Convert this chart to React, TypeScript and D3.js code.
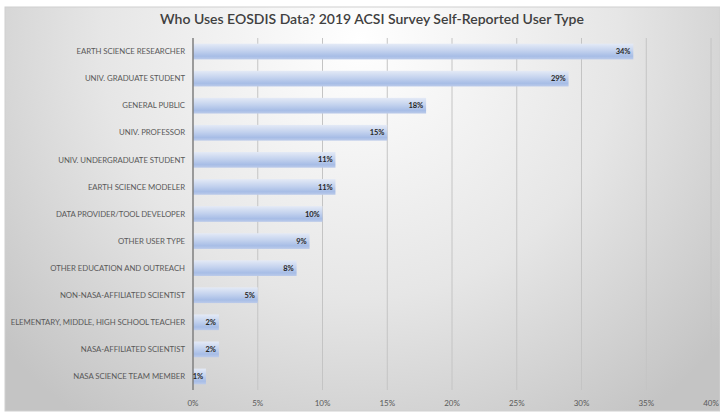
import { useEffect, useRef } from 'react';
import * as d3 from 'd3';

const categories = [
  'EARTH SCIENCE RESEARCHER',
  'UNIV. GRADUATE STUDENT',
  'GENERAL PUBLIC',
  'UNIV. PROFESSOR',
  'UNIV. UNDERGRADUATE STUDENT',
  'EARTH SCIENCE MODELER',
  'DATA PROVIDER/TOOL DEVELOPER',
  'OTHER USER TYPE',
  'OTHER EDUCATION AND OUTREACH',
  'NON-NASA-AFFILIATED SCIENTIST',
  'ELEMENTARY, MIDDLE, HIGH SCHOOL TEACHER',
  'NASA-AFFILIATED SCIENTIST',
  'NASA SCIENCE TEAM MEMBER',
];
const shares = [34, 29, 18, 15, 11, 11, 10, 9, 8, 5, 2, 2, 1];
const xTicks = [0, 5, 10, 15, 20, 25, 30, 35, 40];
const title = 'Who Uses EOSDIS Data? 2019 ACSI Survey Self-Reported User Type';

const W = 720;
const H = 414;
const FONT = 'Lato, "Open Sans", sans-serif';

export default function App() {
  const svgRef = useRef<SVGSVGElement>(null);

  useEffect(() => {
    document.body.style.margin = '0';
    if (!svgRef.current) return;
    const svg = d3.select(svgRef.current);
    svg.selectAll('*').remove();

    const margin = { top: 38, right: 9, bottom: 24, left: 193 };
    const x = d3.scaleLinear().domain([0, 40]).range([margin.left, W - margin.right]);
    const y = d3.scaleBand().domain(categories).range([margin.top, H - margin.bottom]).paddingInner(0.42).paddingOuter(0.21);

    const defs = svg.append('defs');
    const bg = defs.append('radialGradient')
        .attr('id', 'bg')
        .attr('gradientUnits', 'userSpaceOnUse')
        .attr('cx', 360).attr('cy', 40).attr('r', 470);
    bg.append('stop').attr('offset', '0%').attr('stop-color', '#ffffff');
    bg.append('stop').attr('offset', '55%').attr('stop-color', '#e6e6e6');
    bg.append('stop').attr('offset', '100%').attr('stop-color', '#c4c4c4');

    const bar = defs.append('linearGradient')
        .attr('id', 'bar')
        .attr('x1', 0).attr('y1', 0).attr('x2', 0).attr('y2', 1);
    bar.append('stop').attr('offset', '0%').attr('stop-color', '#e4eaf6');
    bar.append('stop').attr('offset', '45%').attr('stop-color', '#c3d2ee');
    bar.append('stop').attr('offset', '80%').attr('stop-color', '#a7bde6');
    bar.append('stop').attr('offset', '100%').attr('stop-color', '#bccbea');

    // chart area background
    svg.append('rect')
        .attr('x', 5).attr('y', 7)
        .attr('width', W - 5).attr('height', H - 10)
        .attr('fill', 'url(#bg)')
        .attr('stroke', '#d0d0d0');

    svg.append('text')
        .attr('x', 372).attr('y', 24)
        .attr('text-anchor', 'middle')
        .attr('font-family', FONT)
        .attr('font-size', 14)
        .attr('font-weight', 600)
        .attr('fill', '#404040')
        .text(title);

    // grid
    svg.append('g')
        .selectAll('line')
        .data(xTicks.slice(1))
        .join('line')
        .attr('x1', d => x(d)).attr('x2', d => x(d))
        .attr('y1', margin.top).attr('y2', H - margin.bottom)
        .attr('stroke', '#c4c4c4')
        .attr('stroke-width', 1);

    // x labels
    svg.append('g')
        .selectAll('text')
        .data(xTicks)
        .join('text')
        .attr('x', d => x(d))
        .attr('y', H - 8)
        .attr('text-anchor', 'middle')
        .attr('font-family', FONT)
        .attr('font-size', 8)
        .attr('fill', '#595959')
        .text(d => `${d}%`);

    // bars
    svg.append('g')
        .selectAll('rect')
        .data(shares)
        .join('rect')
        .attr('x', x(0))
        .attr('y', (_, i) => y(categories[i])!)
        .attr('width', d => x(d) - x(0))
        .attr('height', y.bandwidth())
        .attr('fill', 'url(#bar)');

    // vertical axis line
    svg.append('line')
        .attr('x1', x(0)).attr('x2', x(0))
        .attr('y1', margin.top).attr('y2', H - margin.bottom)
        .attr('stroke', '#7f7f7f')
        .attr('stroke-width', 1.5);

    // value labels
    svg.append('g')
        .selectAll('text')
        .data(shares)
        .join('text')
        .attr('x', d => x(d) - 3)
        .attr('y', (_, i) => y(categories[i])! + y.bandwidth() / 2)
        .attr('dy', '0.35em')
        .attr('text-anchor', 'end')
        .attr('font-family', FONT)
        .attr('font-size', 7.5)
        .attr('font-weight', 700)
        .attr('letter-spacing', -0.1)
        .attr('fill', '#262626')
        .text(d => `${d}%`);

    // category labels
    svg.append('g')
        .selectAll('text')
        .data(categories)
        .join('text')
        .attr('x', margin.left - 8)
        .attr('y', d => y(d)! + y.bandwidth() / 2)
        .attr('dy', '0.35em')
        .attr('text-anchor', 'end')
        .attr('font-family', FONT)
        .attr('font-size', 7.8)
        .attr('letter-spacing', -0.05)
        .attr('fill', '#595959')
        .text(d => d);
  }, []);

  return <svg ref={svgRef} width={W} height={H} style={{ display: 'block' }} />;
}
